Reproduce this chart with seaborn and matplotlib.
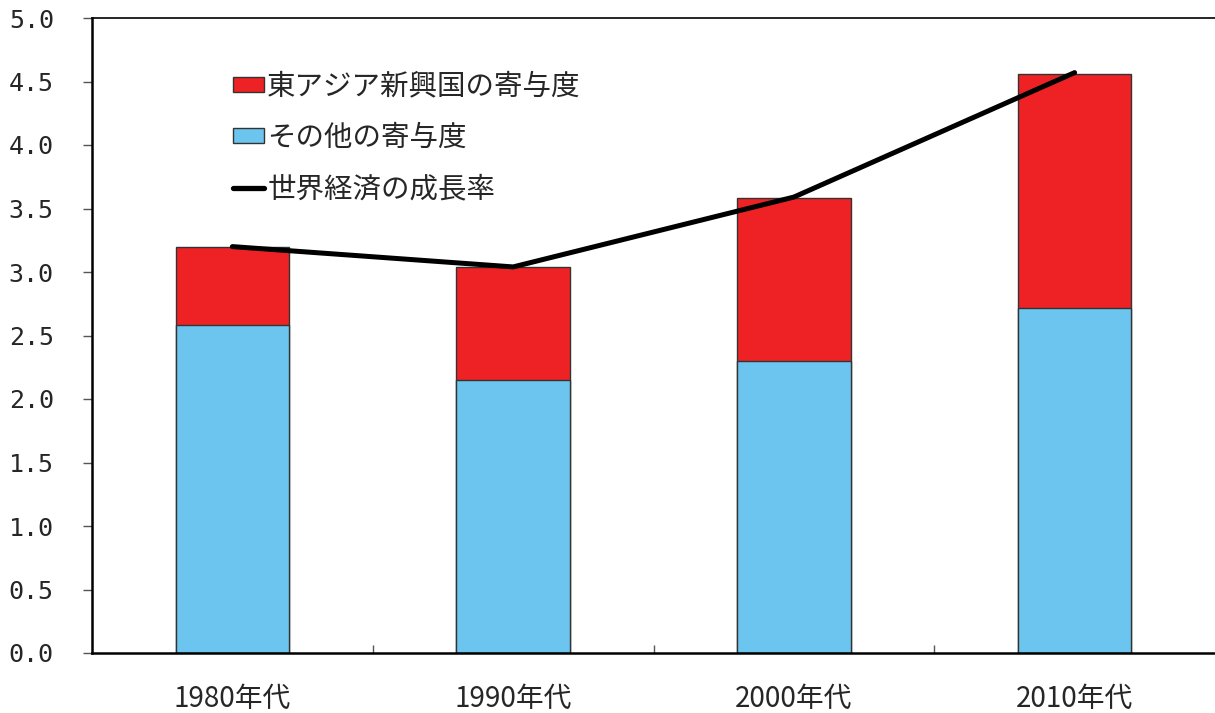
import numpy as np
import pandas as pd
import matplotlib
matplotlib.use("Agg")
import matplotlib.pyplot as plt
from matplotlib.patches import Patch
from matplotlib.lines import Line2D
from matplotlib.ticker import FixedLocator, FormatStrFormatter
import seaborn as sns

# --- データ ---
decades = ["1980年代", "1990年代", "2000年代", "2010年代"]
other_contrib = [2.58, 2.15, 2.30, 2.72]      # その他の寄与度
east_asia_contrib = [0.62, 0.89, 1.28, 1.84]  # 東アジア新興国の寄与度
world_growth = [3.20, 3.04, 3.59, 4.57]       # 世界経済の成長率

RED = "#EE2224"
BLUE = "#6BC5EE"

sns.set_theme(style="white")
plt.rcParams["font.family"] = ["Noto Sans CJK JP", "DejaVu Sans"]

df = pd.DataFrame({
    "decade": decades,
    "other": other_contrib,
    "east": east_asia_contrib,
})
df["total"] = df["other"] + df["east"]

fig = plt.figure(figsize=(12.15, 7.13), dpi=100)
ax = fig.add_axes([92 / 1215, 60 / 713, 1 - 92 / 1215, 635 / 713])

# 積み上げ棒: 合計(赤) の上に その他(青) を重ねる
sns.barplot(data=df, x="decade", y="total", color=RED, saturation=1,
            width=0.405, edgecolor="#333333", linewidth=1.0, ax=ax)
sns.barplot(data=df, x="decade", y="other", color=BLUE, saturation=1,
            width=0.405, edgecolor="#333333", linewidth=1.0, ax=ax)

# 折れ線: 世界経済の成長率
sns.lineplot(x=np.arange(len(decades)), y=world_growth, color="black",
             linewidth=3.6, ax=ax, solid_capstyle="round", zorder=5)

ax.set_xlim(-0.5, len(decades) - 0.5)
ax.set_ylim(0, 5.0)
ax.set_xlabel("")
ax.set_ylabel("")

# y軸
ax.yaxis.set_major_locator(FixedLocator(np.arange(0, 5.01, 0.5)))
ax.yaxis.set_major_formatter(FormatStrFormatter("%.1f"))
ax.tick_params(axis="y", which="major", direction="out", length=6.5, width=1.0,
               color="#555555", pad=21, left=True)
for lab in ax.get_yticklabels():
    lab.set_fontfamily("DejaVu Sans Mono")
    lab.set_fontsize(18)

# x軸: ラベルは棒の中央、目盛りは区切り位置
ax.set_xticks(range(len(decades)))
ax.set_xticklabels(decades, fontsize=20)
ax.set_xticks([0.5, 1.5, 2.5], minor=True)
ax.tick_params(axis="x", which="major", length=0, pad=22)
ax.tick_params(axis="x", which="minor", direction="in", length=6, width=1.0,
               color="#555555", bottom=True)

for side in ["left", "bottom"]:
    ax.spines[side].set_color("black")
    ax.spines[side].set_linewidth(1.8)
ax.spines["top"].set_color("black")
ax.spines["top"].set_linewidth(1.2)
ax.spines["right"].set_visible(False)

# 凡例
handles = [
    Patch(facecolor=RED, edgecolor="#333333", linewidth=1.0),
    Patch(facecolor=BLUE, edgecolor="#333333", linewidth=1.0),
    Line2D([0], [0], color="black", linewidth=3.8),
]
labels = ["東アジア新興国の寄与度", "その他の寄与度", "世界経済の成長率"]
ax.legend(handles, labels, loc="upper left", bbox_to_anchor=(0.115, 0.934),
          frameon=False, fontsize=20.5, handlelength=1.1, handleheight=0.42,
          handletextpad=0.12, labelspacing=0.75, borderaxespad=0)

fig.savefig("out.png", dpi=100)
